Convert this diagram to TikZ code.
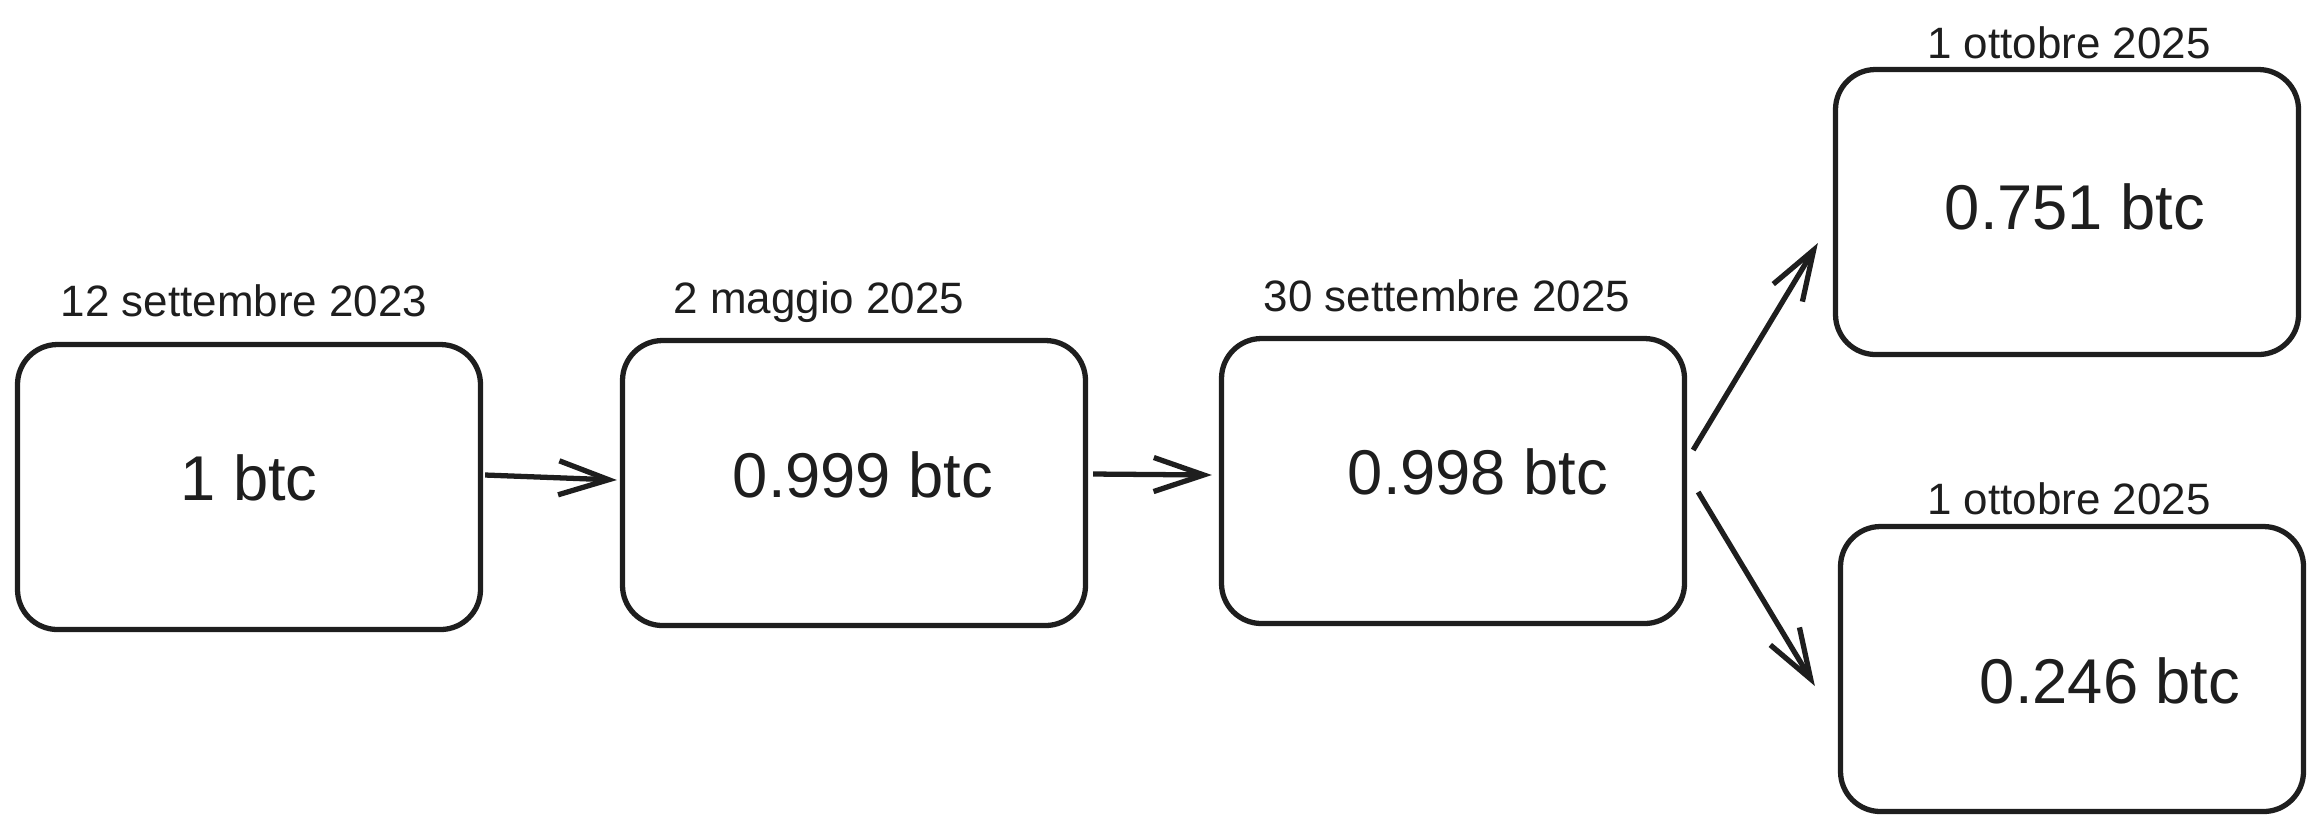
\documentclass[tikz,border=0pt]{standalone}
\usepackage{fontspec}
\setmainfont{Liberation Sans}
\usepackage{xcolor}
\usetikzlibrary{arrows.meta,positioning,calc}
\definecolor{ink}{HTML}{1E1E1E}

\begin{document}
\begin{tikzpicture}[x=0.1mm,y=-0.1mm,line width=1.5pt,draw=ink,text=ink,
  >={Straight Barb[length=5mm,width=3.4mm]},
  box/.style={draw,rounded corners=4mm,minimum width=46.3mm,minimum height=28.5mm,inner sep=0pt},
  amount/.style={font=\fontsize{18}{20}\selectfont},
  date/.style={font=\fontsize{12.5}{14}\selectfont}]
\useasboundingbox (0,0) rectangle (2322,832);
% boxes
\node[box] (b1) at (249,487) {};
\node[box] (b2) at (854,483) {};
\node[box] (b3) at (1453,481) {};
\node[box] (b4) at (2067,212) {};
\node[box] (b5) at (2072,669) {};
% amounts
\node[amount] (v1) at (249,478) {1 btc};
\node[amount] (v2) at (863,475) {0.999 btc};
\node[amount] (v3) at (1478,472) {0.998 btc};
\node[amount] (v4) at (2075,207) {0.751 btc};
\node[amount] (v5) at (2110,681) {0.246 btc};
% dates
\node[date] (d1) at (244,301) {12 settembre 2023};
\node[date] (d2) at (819,302) {2 maggio 2025};
\node[date] (d3) at (1447,296) {30 settembre 2025};
\node[date] (d4) at (2069,43) {1 ottobre 2025};
\node[date] (d5) at (2069,499) {1 ottobre 2025};
% arrows
\draw[->] ($(b1.east)+(2,-12)$) -- ($(b2.west)+(-3,-3)$);
\draw[->] ($(b2.east)+(5,-9)$) -- ($(b3.west)+(-7,-6)$);
\draw[->] ($(b3.east)+(6,-31)$) -- ($(b4.west)+(-15,31)$);
\draw[->] ($(b3.east)+(11,11)$) -- ($(b5.west)+(-23,17)$);
\end{tikzpicture}
\end{document}
